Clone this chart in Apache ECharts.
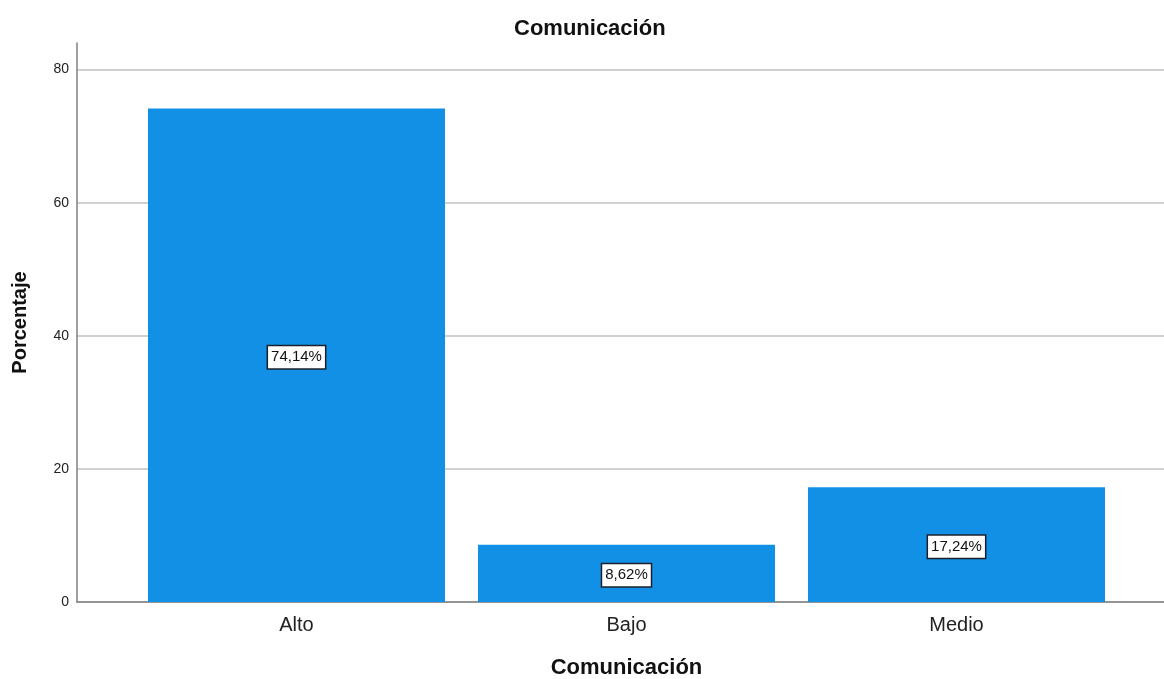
<!DOCTYPE html>
<html><head><meta charset="utf-8">
<script src="https://cdn.jsdelivr.net/npm/echarts@6/dist/echarts.min.js"></script>
<style>html,body{margin:0;padding:0;background:#fff}#c{width:1164px;height:679px}</style>
</head><body><div id="c"></div>
<script>
const categories = ['Alto', 'Bajo', 'Medio'];
const values = [74.14, 8.62, 17.24];
const labels = ['74,14%', '8,62%', '17,24%'];
const yTicks = [0, 20, 40, 60, 80];

const FONT = 'Liberation Sans, Arial, sans-serif';
const chart = echarts.init(document.getElementById('c'));
chart.setOption({
  animation: false,
  title: { text: 'Comunicación', left: 509, top: 13,
    textStyle: { fontFamily: FONT, fontSize: 22, fontWeight: 'bold', color: '#111' } },
  grid: [
    { left: 77, right: 0, top: 43, bottom: 77, outerBoundsMode: 'none', containLabel: false },
    { left: 131.5, right: 42.5, top: 43, bottom: 77, outerBoundsMode: 'none', containLabel: false }
  ],
  xAxis: [{
    type: 'category', data: [''], gridIndex: 0,
    axisLine: { lineStyle: { color: '#808080', width: 1.5 } },
    axisTick: { show: false }, axisLabel: { show: false }
  }, {
    type: 'category', data: categories, gridIndex: 1,
    name: 'Comunicación', nameLocation: 'middle', nameGap: 55,
    nameTextStyle: { fontFamily: FONT, fontSize: 22, fontWeight: 'bold', color: '#111' },
    axisLine: { show: false },
    axisTick: { show: false },
    axisLabel: { fontFamily: FONT, fontSize: 20, color: '#222', margin: 13 }
  }],
  yAxis: [{
    type: 'value', min: 0, max: 84, interval: 20, gridIndex: 0,
    name: 'Porcentaje', nameLocation: 'middle', nameGap: 47, nameRotate: 90,
    nameTextStyle: { fontFamily: FONT, fontSize: 20, fontWeight: 'bold', color: '#111' },
    axisLine: { show: true, lineStyle: { color: '#808080', width: 1.5 } },
    axisTick: { show: false },
    axisLabel: { fontFamily: FONT, fontSize: 14, color: '#222', margin: 8,
      formatter: v => yTicks.includes(v) ? String(v) : '' },
    splitLine: { showMaxLine: false, lineStyle: { color: '#c0c0c0', width: 1.5 } }
  }, {
    type: 'value', min: 0, max: 84, gridIndex: 1, show: false,
    splitLine: { show: false }
  }],
  series: [{
    type: 'bar', data: values, xAxisIndex: 1, yAxisIndex: 1, barCategoryGap: '10%',
    itemStyle: { color: '#1290e6' },
    label: {
      show: true, position: 'inside', offset: [0, 2],
      formatter: p => labels[p.dataIndex],
      fontFamily: FONT, fontSize: 15, color: '#111',
      backgroundColor: '#fff', borderColor: '#1a1f2a', borderWidth: 1.5,
      padding: [4, 3, 3, 3]
    }
  }]
});
</script></body></html>
